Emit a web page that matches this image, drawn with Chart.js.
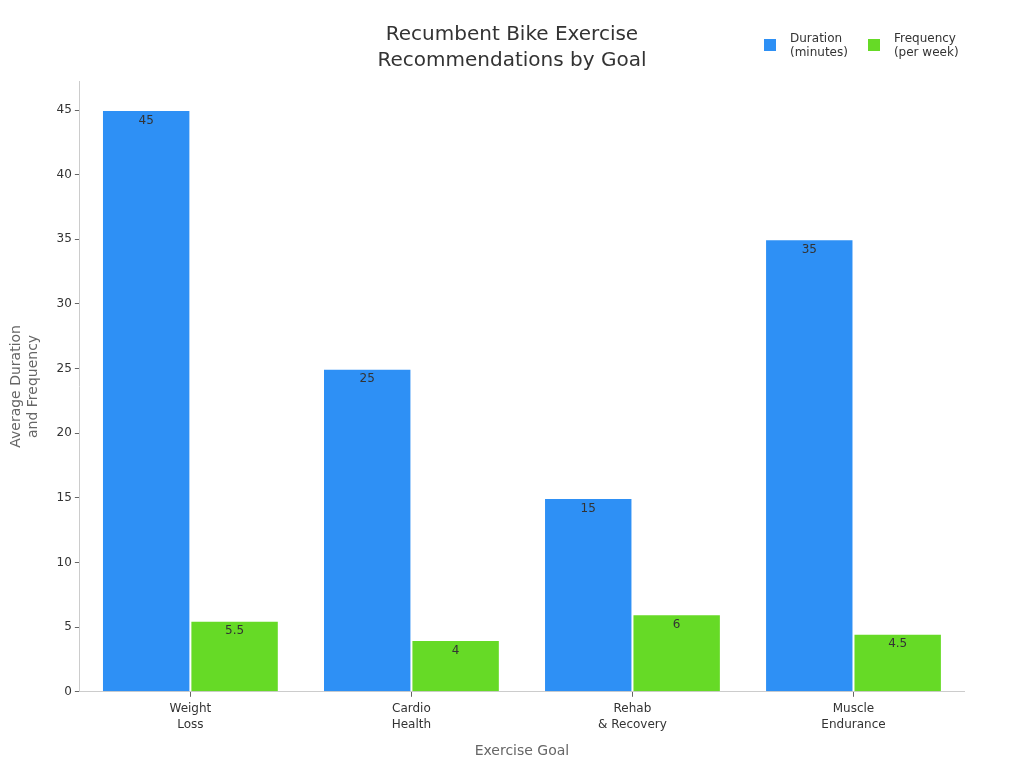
<!DOCTYPE html>
<html>
<head>
<meta charset="utf-8">
<script src="https://cdn.jsdelivr.net/npm/chart.js@4/dist/chart.umd.min.js"></script>
<style>
  html, body { margin: 0; padding: 0; background: #fff; }
  #wrap { position: relative; width: 1024px; height: 768px; }
  #title { position: absolute; top: 20px; left: 0; width: 1024px; text-align: center; font: 20px "DejaVu Sans", sans-serif; line-height: 26px; color: #333; }
  #legend { position: absolute; top: 31px; left: 764px; font: 12px "DejaVu Sans", sans-serif; color: #333; display: flex; }
  .item { display: flex; align-items: center; margin-right: 20px; }
  .box { width: 12px; height: 12px; margin-right: 14px; }
  .lbl { line-height: 14px; }
</style>
</head>
<body>
<div id="wrap">
  <canvas id="chart" width="1024" height="768"></canvas>
  <div id="title"></div>
  <div id="legend"></div>
</div>
<script>
// データ
const chartTitle = ['Recumbent Bike Exercise', 'Recommendations by Goal'];
const goals = [["Weight", "Loss"], ["Cardio", "Health"], ["Rehab", "& Recovery"], ["Muscle", "Endurance"]];
const duration = [45, 25, 15, 35];
const frequency = [5.5, 4, 6, 4.5];
const seriesNames = [["Duration", "(minutes)"], ["Frequency", "(per week)"]];
const seriesColors = ["#2E90F5", "#66DA26"];

// タイトルと凡例（HTML）
document.getElementById('title').innerHTML = chartTitle.join('<br>');
let legendHtml = '';
seriesNames.forEach((name, i) => {
    legendHtml += '<div class="item"><div class="box" style="background:' + seriesColors[i] + '"></div>';
    legendHtml += '<div class="lbl">' + name[0] + '<br>' + name[1] + '</div></div>';
});
document.getElementById('legend').innerHTML = legendHtml;

// 棒の上に値を表示
const valueLabels = {
    id: 'valueLabels',
    afterDatasetsDraw(chart) {
        const ctx = chart.ctx;
        ctx.save();
        ctx.font = '12px "DejaVu Sans"';
        ctx.fillStyle = '#333';
        ctx.textAlign = 'center';
        ctx.textBaseline = 'middle';
        chart.data.datasets.forEach((ds, i) => {
            chart.getDatasetMeta(i).data.forEach((bar, j) => {
                ctx.fillText(ds.data[j], bar.x, bar.y + 10.5);
            });
        });
        ctx.restore();
    }
};

Chart.defaults.font.family = '"DejaVu Sans", sans-serif';

new Chart(document.getElementById('chart'), {
    type: 'bar',
    data: {
        labels: goals,
        datasets: [
            { label: 'Duration (minutes)', data: duration, backgroundColor: seriesColors[0], borderColor: '#ffffff', borderWidth: 1 },
            { label: 'Frequency (per week)', data: frequency, backgroundColor: seriesColors[1], borderColor: '#ffffff', borderWidth: 1 }
        ]
    },
    options: {
        responsive: false,
        animation: false,
        layout: { padding: { top: 81, right: 60, left: 4, bottom: 4 } },
        datasets: { bar: { categoryPercentage: 0.8, barPercentage: 1.0 } },
        plugins: {
            legend: { display: false },
            tooltip: { enabled: false },
            title: { display: false }
        },
        scales: {
            x: {
                grid: { display: true, offset: false, drawOnChartArea: false, drawTicks: true, tickLength: 5, color: '#666' },
                border: { color: '#ccc' },
                ticks: { color: '#333', font: { size: 12, lineHeight: 1.35 }, padding: 4 },
                title: { display: true, text: 'Exercise Goal', color: '#666', font: { size: 14 }, padding: { top: 6 } }
            },
            y: {
                min: 0,
                max: 47.25,
                grid: { display: true, drawOnChartArea: false, drawTicks: true, tickLength: 5, color: '#666' },
                border: { color: '#ccc' },
                ticks: { stepSize: 5, color: '#333', font: { size: 12 }, padding: 3,
                    callback: v => (v % 5 === 0 ? v : null) },
                title: { display: true, text: ['Average Duration', 'and Frequency'], color: '#666', font: { size: 14 }, padding: { bottom: 12 } }
            }
        }
    },
    plugins: [valueLabels]
});
</script>
</body>
</html>
